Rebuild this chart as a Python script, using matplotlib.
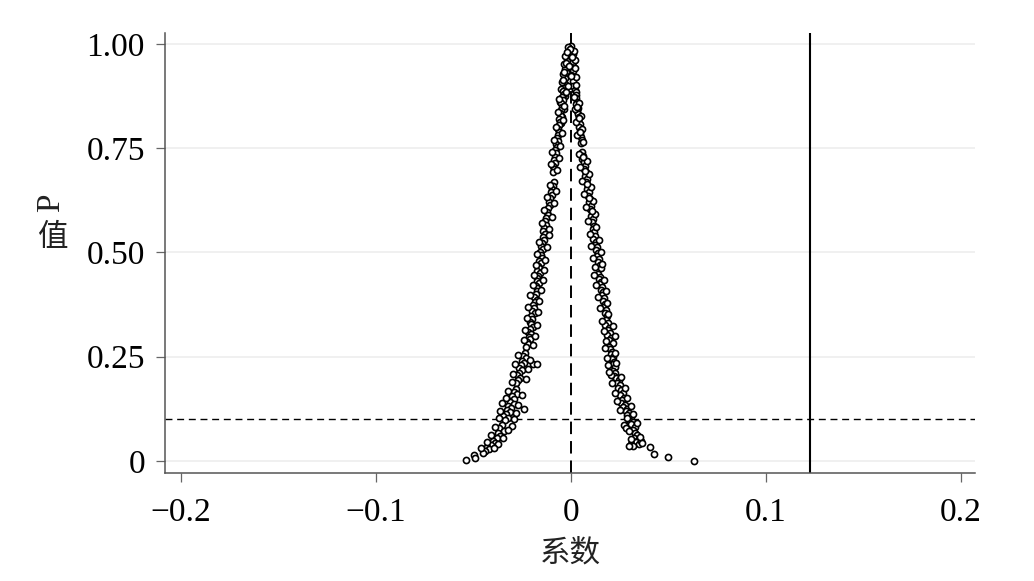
import matplotlib
matplotlib.use("Agg")
import matplotlib.pyplot as plt

plt.rcParams['lines.scale_dashes'] = False

# ---------------- data ----------------
# apex: both arms merged near coefficient 0
top_coef = [0.000, -0.001, 0.000, -0.001, 0.001, -0.002, 0.000, -0.002, 0.001, -0.002,
            0.000, -0.003, 0.001, -0.002, 0.000, -0.003, 0.001, -0.003, 0.001, -0.004,
            0.002, -0.003,
            -0.0015, 0.0015, -0.003, 0.002, -0.0035, 0.002, -0.004, 0.0025, -0.0045, 0.0025,
            -0.0005, -0.002, 0.0005, -0.0025, -0.001, -0.0035, 0.0, -0.004, -0.0015, -0.005,
            -0.003, -0.0055, -0.0035, -0.0045, -0.005]
top_p = [0.995, 0.990, 0.985, 0.978, 0.975, 0.970, 0.965, 0.960, 0.957, 0.950,
         0.945, 0.940, 0.936, 0.930, 0.925, 0.918, 0.912, 0.905, 0.900, 0.895,
         0.890, 0.885,
         0.993, 0.982, 0.972, 0.962, 0.952, 0.943, 0.928, 0.920, 0.908, 0.902,
         0.988, 0.980, 0.968, 0.955, 0.947, 0.933, 0.922, 0.914, 0.898, 0.892,
         0.875, 0.860, 0.845, 0.826, 0.810]

# left (negative) arm
left_coef = [-0.004, -0.0035, -0.0045, -0.004, -0.005, -0.0045, -0.005, -0.0055, -0.005, -0.006,
             -0.0055, -0.006, -0.0065, -0.006,
             -0.0065, -0.007, -0.0065, -0.0075, -0.007, -0.008, -0.0075, -0.008, -0.0085, -0.008,
             -0.009, -0.0085, -0.009,
             -0.0085, -0.009, -0.0095, -0.010, -0.0095, -0.0105, -0.011, -0.0105, -0.0115, -0.012,
             -0.0115, -0.0125, -0.013, -0.0125, -0.0135, -0.014,
             -0.013, -0.014, -0.0135, -0.0145, -0.015, -0.014, -0.0155, -0.015,
             -0.0145, -0.016, -0.015, -0.0165, -0.016, -0.017, -0.0155, -0.0165, -0.0175, -0.017,
             -0.016, -0.018, -0.017, -0.0175,
             -0.018, -0.019, -0.0175, -0.0185, -0.0195, -0.019, -0.020, -0.0185, -0.0205, -0.020,
             -0.021,
             -0.0205, -0.0195, -0.021, -0.022, -0.0205, -0.0215, -0.021, -0.0225, -0.022, -0.023,
             -0.0235, -0.0245, -0.023, -0.025, -0.024, -0.0255, -0.0265, -0.025, -0.0265, -0.0275,
             -0.026, -0.027, -0.028, -0.0195, -0.017,
             -0.028, -0.029, -0.0275, -0.030, -0.029,
             -0.031, -0.029, -0.032, -0.0305, -0.0325, -0.031, -0.033, -0.0345, -0.032, -0.0335,
             -0.024,
             -0.035, -0.0365, -0.034, -0.037, -0.036, -0.038, -0.040, -0.039, -0.041, -0.043,
             -0.042, -0.044, -0.045, -0.030,
             -0.0495, -0.049, -0.0536]
left_p = [0.888, 0.880, 0.872, 0.865, 0.858, 0.850, 0.842, 0.835, 0.828, 0.820,
          0.812, 0.805, 0.797, 0.790,
          0.782, 0.775, 0.768, 0.760, 0.752, 0.745, 0.738, 0.730, 0.722, 0.715,
          0.708, 0.700, 0.693,
          0.668, 0.660, 0.652, 0.645, 0.638, 0.630, 0.622, 0.615, 0.607, 0.598,
          0.590, 0.582, 0.575, 0.566, 0.558, 0.552,
          0.545, 0.538, 0.530, 0.522, 0.515, 0.508, 0.500, 0.493,
          0.486, 0.480, 0.474, 0.468, 0.462, 0.456, 0.450, 0.444, 0.438, 0.432,
          0.426, 0.420, 0.414, 0.408,
          0.400, 0.393, 0.386, 0.380, 0.373, 0.366, 0.360, 0.354, 0.347, 0.340,
          0.334,
          0.328, 0.322, 0.316, 0.310, 0.304, 0.298, 0.292, 0.286, 0.280, 0.274,
          0.258, 0.252, 0.246, 0.240, 0.235, 0.229, 0.223, 0.217, 0.211, 0.205,
          0.199, 0.193, 0.187, 0.232, 0.232,
          0.172, 0.166, 0.160, 0.155, 0.149,
          0.142, 0.137, 0.132, 0.127, 0.122, 0.117, 0.112, 0.107, 0.102, 0.097,
          0.125,
          0.085, 0.078, 0.072, 0.066, 0.060, 0.054, 0.048, 0.043, 0.038, 0.034,
          0.029, 0.025, 0.020, 0.084,
          0.014, 0.006, 0.002]

# further points across the width of the left arm
left2_coef = [-0.0025, -0.006, -0.0035, -0.0065, -0.004, -0.0075, -0.0045, -0.0085, -0.0055, -0.0095,
              -0.006, -0.010, -0.007,
              -0.0105, -0.0075, -0.012, -0.0085, -0.0135, -0.0095, -0.0145, -0.011,
              -0.011, -0.016, -0.012, -0.017,
              -0.013, -0.018, -0.0135, -0.019, -0.014, -0.0195, -0.015,
              -0.021, -0.016, -0.022, -0.0165, -0.0225,
              -0.0175, -0.0235, -0.0185, -0.024, -0.0195,
              -0.027, -0.021, -0.0285, -0.022, -0.0295, -0.023, -0.030,
              -0.032, -0.025, -0.033,
              -0.035, -0.027, -0.036, -0.028, -0.0365, -0.029,
              -0.039, -0.032, -0.041, -0.0345, -0.043, -0.037, -0.046, -0.0395]
left2_p = [0.884, 0.868, 0.852, 0.838, 0.818, 0.800, 0.786, 0.770, 0.756, 0.742,
           0.726, 0.712, 0.698,
           0.662, 0.648, 0.634, 0.618, 0.602, 0.586, 0.570, 0.556,
           0.541, 0.526, 0.512, 0.497,
           0.482, 0.470, 0.458, 0.446, 0.434, 0.422, 0.411,
           0.397, 0.383, 0.370, 0.357, 0.343,
           0.326, 0.313, 0.300, 0.289, 0.277,
           0.255, 0.243, 0.232, 0.220, 0.208, 0.196, 0.190,
           0.168, 0.158, 0.152,
           0.139, 0.135, 0.120, 0.114, 0.104, 0.100,
           0.082, 0.075, 0.062, 0.056, 0.045, 0.040, 0.030, 0.032]

# right (positive) arm
right_coef = [0.0025, 0.003, 0.0025, 0.0035, 0.003, 0.004, 0.0035, 0.004, 0.0045, 0.004,
              0.005, 0.0045, 0.005,
              0.005, 0.0055, 0.006, 0.0055,
              0.006, 0.0065, 0.006, 0.007, 0.0075, 0.007, 0.008, 0.0075, 0.0085, 0.008,
              0.009, 0.0085, 0.0095,
              0.009, 0.010, 0.0095, 0.0105, 0.010, 0.011, 0.0105, 0.0115, 0.011, 0.012,
              0.0115,
              0.012, 0.0125, 0.0115, 0.013, 0.0125, 0.0135, 0.013, 0.014, 0.0135, 0.0145,
              0.014, 0.015, 0.0155,
              0.014, 0.015, 0.0145, 0.0155, 0.015, 0.016, 0.0155, 0.0165, 0.016, 0.017,
              0.0165, 0.0175, 0.017, 0.018, 0.0175, 0.0185,
              0.018, 0.019, 0.0175, 0.0195, 0.019, 0.020, 0.0185, 0.0205, 0.0195, 0.0215,
              0.0195, 0.020, 0.021, 0.0205, 0.0215, 0.021, 0.022, 0.0215, 0.0225,
              0.0215, 0.023, 0.022, 0.0235, 0.025, 0.024, 0.0255, 0.0245, 0.026, 0.027,
              0.0255, 0.0275, 0.0265, 0.0205,
              0.026, 0.028, 0.027, 0.029, 0.0285, 0.030, 0.029,
              0.031, 0.030, 0.032, 0.031, 0.033, 0.0275, 0.0285, 0.032, 0.033, 0.034,
              0.0325, 0.0345, 0.0335, 0.035, 0.036, 0.031, 0.032, 0.030,
              0.0408, 0.043, 0.0498, 0.0635]
right_p = [0.885, 0.878, 0.870, 0.862, 0.855, 0.847, 0.840, 0.832, 0.824, 0.816,
           0.808, 0.800, 0.792,
           0.785, 0.778, 0.770, 0.763,
           0.740, 0.732, 0.724, 0.716, 0.708, 0.700, 0.692, 0.684, 0.676, 0.668,
           0.660, 0.652, 0.645,
           0.636, 0.628, 0.620, 0.612, 0.604, 0.596, 0.588, 0.580, 0.572, 0.564,
           0.556,
           0.548, 0.540, 0.533, 0.526, 0.519, 0.512, 0.505, 0.498, 0.491, 0.484,
           0.477, 0.470, 0.463,
           0.448, 0.442, 0.436, 0.430, 0.424, 0.418, 0.411, 0.404, 0.397, 0.390,
           0.383, 0.376, 0.369, 0.362, 0.355, 0.348,
           0.338, 0.332, 0.326, 0.320, 0.314, 0.308, 0.302, 0.296, 0.290, 0.284,
           0.274, 0.268, 0.262, 0.256, 0.250, 0.244, 0.238, 0.232, 0.226,
           0.216, 0.210, 0.204, 0.198, 0.193, 0.188, 0.182, 0.176, 0.170, 0.164,
           0.158, 0.152, 0.147, 0.205,
           0.140, 0.135, 0.130, 0.125, 0.120, 0.115, 0.110,
           0.105, 0.099, 0.094, 0.088, 0.082, 0.085, 0.078, 0.074, 0.068, 0.062,
           0.056, 0.051, 0.046, 0.041, 0.048, 0.040, 0.036, 0.036,
           0.034, 0.016, 0.010, 0.000]

# further points across the width of the right arm
right2_coef = [0.0015, 0.0045, 0.002, 0.0055, 0.003, 0.006, 0.0035, 0.0065,
               0.0045, 0.0085, 0.005, 0.0095, 0.006, 0.0105, 0.007,
               0.0115, 0.008, 0.0125, 0.009, 0.013,
               0.010, 0.0145, 0.0105, 0.0155, 0.0115, 0.016, 0.0125,
               0.012, 0.017, 0.013, 0.018, 0.014, 0.0185, 0.015, 0.019,
               0.016, 0.0215, 0.017, 0.0225, 0.018,
               0.0175, 0.023, 0.0185, 0.0235, 0.019,
               0.0195, 0.026, 0.021, 0.028, 0.023, 0.029,
               0.024, 0.031, 0.0255, 0.032,
               0.029, 0.034, 0.030, 0.0355, 0.031, 0.0365,
               0.0035, 0.0045, 0.005, 0.0065, 0.0075, 0.0085, 0.0095, 0.0110]
right2_p = [0.874, 0.858, 0.843, 0.828, 0.812, 0.797, 0.781, 0.766,
            0.736, 0.720, 0.704, 0.688, 0.672, 0.656, 0.641,
            0.624, 0.608, 0.592, 0.576, 0.560,
            0.544, 0.529, 0.515, 0.501, 0.487, 0.473, 0.466,
            0.445, 0.433, 0.421, 0.407, 0.393, 0.379, 0.366, 0.352,
            0.335, 0.323, 0.311, 0.299, 0.287,
            0.271, 0.259, 0.247, 0.235, 0.229,
            0.213, 0.201, 0.186, 0.174, 0.162, 0.150,
            0.143, 0.132, 0.122, 0.113,
            0.102, 0.091, 0.072, 0.058, 0.052, 0.044,
            0.850, 0.822, 0.790, 0.728, 0.696, 0.664, 0.630, 0.600]

true_coef = 0.123        # solid vertical reference line
p_threshold = 0.1        # dashed horizontal line

xticks = [-0.2, -0.1, 0, 0.1, 0.2]
xtick_labels = ["\u22120.2", "\u22120.1", "0", "0.1", "0.2"]
yticks = [0, 0.25, 0.5, 0.75, 1.0]
ytick_labels = ["0", "0.25", "0.50", "0.75", "1.00"]

# ---------------- figure ----------------
fig = plt.figure(figsize=(10.34, 5.81), dpi=100)
ax = fig.add_axes([0.1596, 0.1854, 0.7834, 0.7583])

serif = "Liberation Serif"
cjk = ["Noto Sans CJK SC", "DejaVu Sans"]

ax.set_xlim(-0.208, 0.2074)
ax.set_ylim(-0.0296, 1.027)

# grid
for yv in yticks:
    ax.axhline(yv, color="#eeeeee", lw=1.2, zorder=0)

coef_all = top_coef + left_coef + left2_coef + right_coef + right2_coef
p_all = top_p + left_p + left2_p + right_p + right2_p
ax.plot(coef_all, p_all, linestyle="none", marker="o", markersize=4.4,
        markerfacecolor="white", markeredgecolor="black", markeredgewidth=1.2,
        zorder=3)

ax.axvline(0, color="black", lw=1.4, dashes=(9, 5), zorder=2)
ax.axhline(p_threshold, color="black", lw=1.0, dashes=(5, 3.4), zorder=2)
ax.axvline(true_coef, color="black", lw=1.5, zorder=2)

for s in ["top", "right"]:
    ax.spines[s].set_visible(False)
for s in ["left", "bottom"]:
    ax.spines[s].set_color("#555555")
    ax.spines[s].set_linewidth(1.1)

ax.set_xticks(xticks)
ax.set_xticklabels(xtick_labels, fontfamily=serif, fontsize=24)
ax.set_yticks(yticks)
ax.set_yticklabels(ytick_labels, fontfamily=serif, fontsize=24)
ax.tick_params(axis="both", direction="out", length=6.5, width=0.9, color="#666666")
ax.tick_params(axis="y", pad=8)
ax.tick_params(axis="x", pad=11)

# axis titles
fig.text(570 / 1034, 1 - 553 / 581, "系数", family=cjk, fontsize=22,
         ha="center", va="center", color="#222222")
fig.text(51 / 1034, 1 - 203 / 581, "P", family=serif, fontsize=24,
         rotation=90, ha="center", va="center", color="#222222")
fig.text(52 / 1034, 1 - 238 / 581, "值", family=cjk, fontsize=22,
         ha="center", va="center", color="#222222")

fig.savefig("out.png", dpi=100, facecolor="white")
